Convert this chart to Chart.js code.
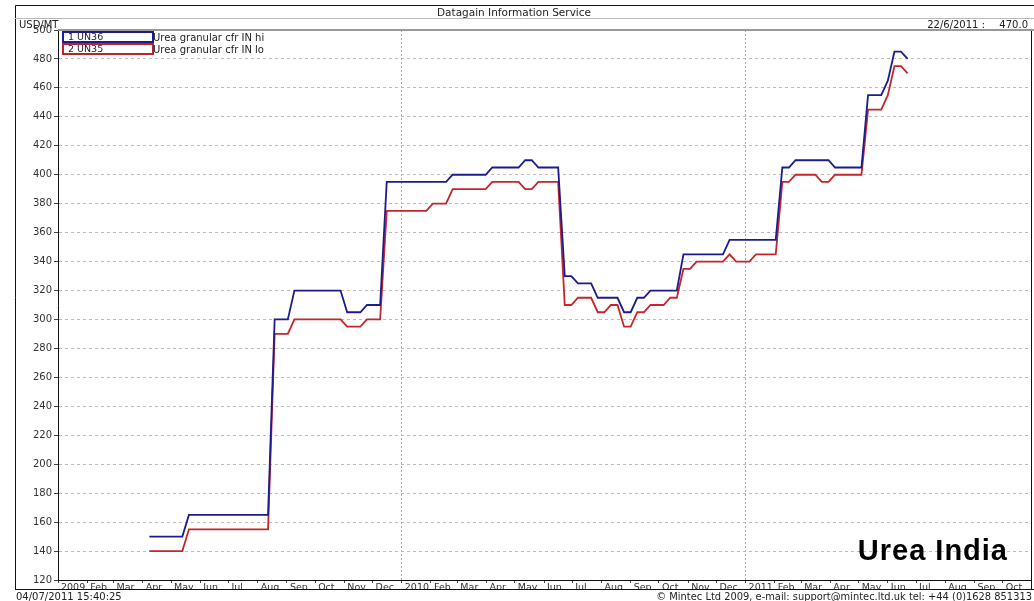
<!DOCTYPE html>
<html>
<head>
<meta charset="utf-8">
<title>Urea India</title>
<script src="https://cdn.jsdelivr.net/npm/chart.js@4.4.1/dist/chart.umd.min.js"></script>
<style>
    body { margin: 0; background: #fff; }
    #wrap { position: relative; width: 1034px; height: 601px; overflow: hidden; font-family: "DejaVu Sans", sans-serif; color: #222; }
    #chart { position: absolute; left: 0; top: 0; }
    .txt { position: absolute; font-size: 10px; line-height: 11px; white-space: nowrap; }
    .lbox { position: absolute; left: 62px; width: 84px; height: 8px; border: 2px solid; font-size: 9.5px; line-height: 8px; padding-left: 4px; }
    #big { position: absolute; right: 26px; top: 534px; font-family: "Liberation Sans", Arial, sans-serif; font-weight: bold; font-size: 29px; letter-spacing: 1px; color: #000; }
</style>
</head>
<body>
<div id="wrap">
    <canvas id="chart" width="1034" height="601"></canvas>
    <div class="txt" style="left:437px; top:7px; font-size:10.5px;">Datagain Information Service</div>
    <div class="txt" style="left:19px; top:19px;">USD/MT</div>
    <div class="txt" style="right:49px; top:19px;">22/6/2011 :</div>
    <div class="txt" style="right:6px; top:19px;">470.0</div>
    <div class="lbox" style="top:31px; border-color:#1c1c8c;">1 UN36</div>
    <div class="txt" style="left:153px; top:32px; font-size:10px;">Urea granular cfr IN hi</div>
    <div class="lbox" style="top:43px; border-color:#b8242c;">2 UN35</div>
    <div class="txt" style="left:153px; top:44px; font-size:10px;">Urea granular cfr IN lo</div>
    <div class="txt" style="left:16px; top:591px;">04/07/2011 15:40:25</div>
    <div class="txt" style="right:2px; top:591px; font-size:9.9px;">&copy; Mintec Ltd 2009, e-mail: support@mintec.ltd.uk tel: +44 (0)1628 851313</div>
    <div id="big">Urea India</div>
</div>
<script>
// weekly (Wednesday) turning points
const hiDates = ['2009-04-08', '2009-05-13', '2009-05-20', '2009-08-12', '2009-08-19', '2009-09-02', '2009-09-09',
    '2009-10-28', '2009-11-04', '2009-11-18', '2009-11-25', '2009-12-09', '2009-12-16',
    '2010-02-17', '2010-02-24', '2010-03-31', '2010-04-07', '2010-05-05', '2010-05-12', '2010-05-19', '2010-05-26',
    '2010-06-16', '2010-06-23', '2010-06-30', '2010-07-07', '2010-07-21', '2010-07-28', '2010-08-18', '2010-08-25',
    '2010-09-01', '2010-09-08', '2010-09-15', '2010-09-22', '2010-10-20', '2010-10-27', '2010-12-08', '2010-12-15',
    '2011-02-02', '2011-02-09', '2011-02-16', '2011-02-23', '2011-03-30', '2011-04-06', '2011-05-04', '2011-05-11',
    '2011-05-25', '2011-06-01', '2011-06-08', '2011-06-15', '2011-06-22'];
const hiValues = [150, 150, 165, 165, 300, 300, 320,
    320, 305, 305, 310, 310, 395,
    395, 400, 400, 405, 405, 410, 410, 405,
    405, 330, 330, 325, 325, 315, 315, 305,
    305, 315, 315, 320, 320, 345, 345, 355,
    355, 405, 405, 410, 410, 405, 405, 455,
    455, 465, 485, 485, 480];

const loDates = ['2009-04-08', '2009-05-13', '2009-05-20', '2009-08-12', '2009-08-19', '2009-09-02', '2009-09-09',
    '2009-10-28', '2009-11-04', '2009-11-18', '2009-11-25', '2009-12-09', '2009-12-16',
    '2010-01-27', '2010-02-03', '2010-02-17', '2010-02-24', '2010-03-31', '2010-04-07', '2010-05-05', '2010-05-12',
    '2010-05-19', '2010-05-26', '2010-06-16', '2010-06-23', '2010-06-30', '2010-07-07', '2010-07-21', '2010-07-28',
    '2010-08-04', '2010-08-11', '2010-08-18', '2010-08-25', '2010-09-01', '2010-09-08', '2010-09-15', '2010-09-22',
    '2010-10-06', '2010-10-13', '2010-10-20', '2010-10-27', '2010-11-03', '2010-11-10', '2010-12-08', '2010-12-15',
    '2010-12-22', '2011-01-05', '2011-01-12', '2011-02-02', '2011-02-09', '2011-02-16', '2011-02-23', '2011-03-16',
    '2011-03-23', '2011-03-30', '2011-04-06', '2011-05-04', '2011-05-11', '2011-05-25', '2011-06-01', '2011-06-08',
    '2011-06-15', '2011-06-22'];
const loValues = [140, 140, 155, 155, 290, 290, 300,
    300, 295, 295, 300, 300, 375,
    375, 380, 380, 390, 390, 395, 395, 390,
    390, 395, 395, 310, 310, 315, 315, 305,
    305, 310, 310, 295, 295, 305, 305, 310,
    310, 315, 315, 335, 335, 340, 340, 345,
    340, 340, 345, 345, 395, 395, 400, 400,
    395, 395, 400, 400, 445, 445, 455, 475,
    475, 470];

const monthNames = ['Jan', 'Feb', 'Mar', 'Apr', 'May', 'Jun', 'Jul', 'Aug', 'Sep', 'Oct', 'Nov', 'Dec'];
const tickYears = [2009, 2010, 2011];
const lastTickMonth = 9; // Oct 2011
const yTicks = { min: 120, max: 500, step: 20 };

const DAY = 86400000;
const origin = Date.UTC(2009, 0, 1);
const dayOf = (s) => {
    const [y, m, d] = s.split('-').map(Number);
    return (Date.UTC(y, m - 1, d) - origin) / DAY;
};

// month ticks, the year takes the place of January
const monthTicks = [];
tickYears.forEach((yr, i) => {
    const last = i === tickYears.length - 1 ? lastTickMonth : 11;
    for (let m = 0; m <= last; m++) {
        monthTicks.push({
            value: (Date.UTC(yr, m, 1) - origin) / DAY,
            label: m === 0 ? String(yr) : monthNames[m]
        });
    }
});

const hiPoints = hiDates.map((d, i) => ({ x: dayOf(d), y: hiValues[i] }));
const loPoints = loDates.map((d, i) => ({ x: dayOf(d), y: loValues[i] }));

// frame round the plot and the header rows
const framePlugin = {
    id: 'frame',
    afterDraw(chart) {
        const { ctx, chartArea: a } = chart;
        ctx.save();
        ctx.lineWidth = 1;
        ctx.strokeStyle = '#111';
        ctx.beginPath();
        ctx.moveTo(15.5, 590); ctx.lineTo(15.5, 5.5); ctx.lineTo(1034, 5.5);
        ctx.moveTo(15, 589.5); ctx.lineTo(1034, 589.5);
        ctx.moveTo(a.right + 0.5, a.top); ctx.lineTo(a.right + 0.5, 590);
        ctx.stroke();
        ctx.strokeStyle = '#bbb';
        ctx.beginPath();
        ctx.moveTo(15, 18.5); ctx.lineTo(1034, 18.5);
        ctx.stroke();
        ctx.lineWidth = 2;
        ctx.strokeStyle = '#999';
        ctx.beginPath();
        ctx.moveTo(a.left, a.top); ctx.lineTo(1034, a.top);
        ctx.stroke();
        ctx.restore();
    }
};

const whiteBg = {
    id: 'whiteBg',
    beforeDraw(chart) {
        const { ctx, width, height } = chart;
        ctx.save();
        ctx.fillStyle = '#fff';
        ctx.fillRect(0, 0, width, height);
        ctx.restore();
    }
};

new Chart(document.getElementById('chart'), {
    type: 'line',
    data: {
        datasets: [
            {
                label: 'Urea granular cfr IN hi',
                data: hiPoints,
                borderColor: '#1c1c8c',
                borderWidth: 1.8,
                pointRadius: 0,
                tension: 0
            },
            {
                label: 'Urea granular cfr IN lo',
                data: loPoints,
                borderColor: '#c4262c',
                borderWidth: 1.8,
                pointRadius: 0,
                tension: 0
            }
        ]
    },
    options: {
        responsive: false,
        animation: false,
        layout: { padding: { left: 0, top: 30, right: 3, bottom: 11 } },
        plugins: {
            legend: { display: false },
            tooltip: { enabled: false }
        },
        scales: {
            x: {
                type: 'linear',
                min: 0,
                max: 1033,
                afterFit: (scale) => { scale.height = 10; },
                afterBuildTicks: (scale) => {
                    scale.ticks = monthTicks.map(t => ({ value: t.value }));
                },
                ticks: {
                    autoSkip: false,
                    maxRotation: 0,
                    align: 'start',
                    padding: -1,
                    labelOffset: 3,
                    color: '#333',
                    font: { family: 'DejaVu Sans', size: 9.5 },
                    callback: (v, i) => monthTicks[i] ? monthTicks[i].label : ''
                },
                grid: {
                    color: (c) => (c.index > 0 && monthTicks[c.index] && monthTicks[c.index].label.length === 4) ? '#aaa' : 'rgba(0,0,0,0)',
                    tickColor: '#444',
                    tickLength: 3,
                    lineWidth: 1
                },
                border: { color: '#111', width: 1, dash: [2, 2] }
            },
            y: {
                min: yTicks.min,
                max: yTicks.max,
                afterFit: (scale) => { scale.width = 58; },
                ticks: {
                    stepSize: yTicks.step,
                    padding: 2,
                    color: '#333',
                    font: { family: 'DejaVu Sans', size: 10 }
                },
                grid: {
                    color: '#bbb',
                    tickColor: '#444',
                    tickLength: 4,
                    lineWidth: 1
                },
                border: { color: '#111', width: 1, dash: [3, 3] }
            }
        }
    },
    plugins: [whiteBg, framePlugin]
});
</script>
</body>
</html>
